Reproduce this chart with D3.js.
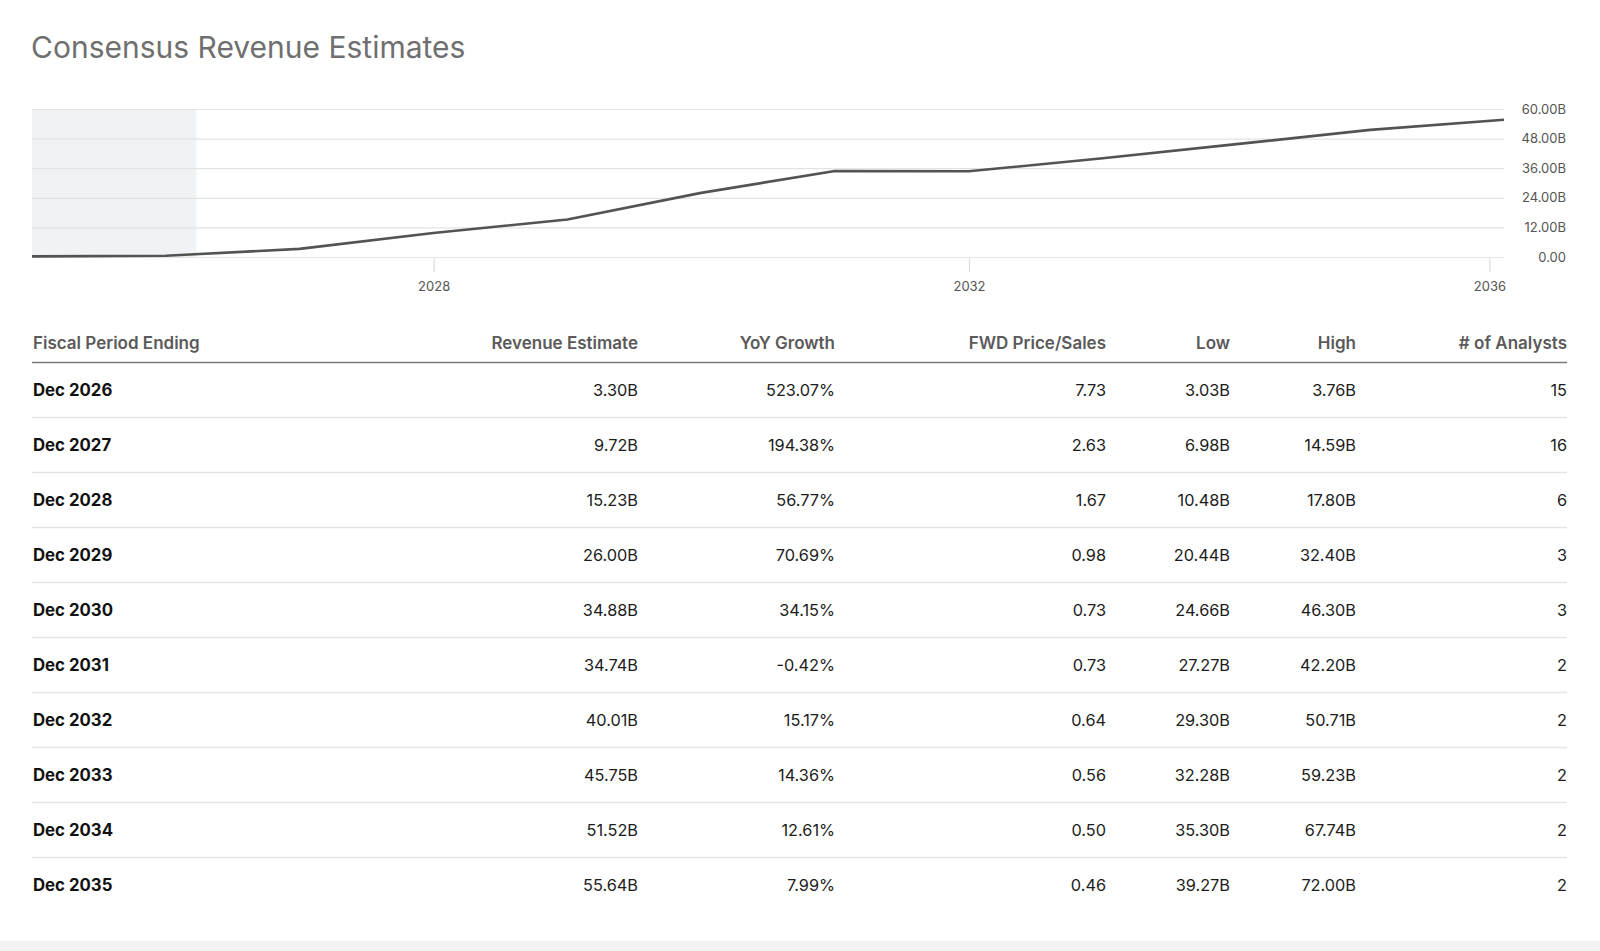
<!DOCTYPE html>
<html>
<head>
<meta charset="utf-8">
<script src="https://cdn.jsdelivr.net/npm/d3@7/dist/d3.min.js"></script>
<style>
  html, body { margin: 0; padding: 0; background: #fff; }
  svg { display: block; font-family: Inter, "Noto Sans", sans-serif; }
</style>
</head>
<body>
<svg id="root" width="1600" height="951"></svg>
<script>
// ---- data ----
const title = "Consensus Revenue Estimates";
const chartPeriods = ["2024-12-31","2025-12-31","2026-12-31","2027-12-31","2028-12-31","2029-12-31","2030-12-31","2031-12-31","2032-12-31","2033-12-31","2034-12-31","2035-12-31"];
const chartRevenue = [0.25, 0.53, 3.30, 9.72, 15.23, 26.00, 34.88, 34.74, 40.01, 45.75, 51.52, 55.64];
const todayDate = "2026-03-25";
const yTicks = [0, 12, 24, 36, 48, 60];
const xTickYears = [2028, 2032, 2036];

const columns = ["Fiscal Period Ending", "Revenue Estimate", "YoY Growth", "FWD Price/Sales", "Low", "High", "# of Analysts"];
const periods = ["Dec 2026","Dec 2027","Dec 2028","Dec 2029","Dec 2030","Dec 2031","Dec 2032","Dec 2033","Dec 2034","Dec 2035"];
const revenue = [3.30, 9.72, 15.23, 26.00, 34.88, 34.74, 40.01, 45.75, 51.52, 55.64];
const yoy = [523.07, 194.38, 56.77, 70.69, 34.15, -0.42, 15.17, 14.36, 12.61, 7.99];
const fwdPS = [7.73, 2.63, 1.67, 0.98, 0.73, 0.73, 0.64, 0.56, 0.50, 0.46];
const low = [3.03, 6.98, 10.48, 20.44, 24.66, 27.27, 29.30, 32.28, 35.30, 39.27];
const high = [3.76, 14.59, 17.80, 32.40, 46.30, 42.20, 50.71, 59.23, 67.74, 72.00];
const analysts = [15, 16, 6, 3, 3, 2, 2, 2, 2, 2];

// ---- layout ----
const svg = d3.select("#root");
const parse = d3.timeParse("%Y-%m-%d");
const plot = { left: 32, right: 1504, top: 109, bottom: 257 };

svg.append("rect").attr("x", 0).attr("y", 941).attr("width", 1600).attr("height", 10).attr("fill", "#f3f3f3");

svg.append("text").attr("x", 31).attr("y", 58)
  .attr("font-size", 30).attr("fill", "#6f6f6f").text(title);

const x = d3.scaleTime()
  .domain([parse(chartPeriods[0]), parse(chartPeriods[chartPeriods.length - 1])])
  .range([plot.left, plot.right]);
const y = d3.scaleLinear().domain([0, 60]).range([plot.bottom, plot.top]);

// shaded history region
svg.append("rect")
  .attr("x", x(parse(chartPeriods[0])))
  .attr("y", y(60))
  .attr("width", x(parse(todayDate)) - x(parse(chartPeriods[0])))
  .attr("height", y(0) - y(60))
  .attr("fill", "#f0f3f6");

// y gridlines + labels
const yAxis = svg.append("g").attr("transform", `translate(${plot.right},0)`)
  .call(d3.axisRight(y).tickValues(yTicks)
    .tickSize(-(plot.right - plot.left))
    .tickFormat(d => d === 0 ? "0.00" : d3.format(".2f")(d) + "B"));
yAxis.select(".domain").remove();
yAxis.selectAll(".tick line").attr("stroke", "#e3e3e3").attr("stroke-width", 1.2);
yAxis.selectAll(".tick text")
  .attr("text-anchor", "end").attr("x", 62)
  .attr("font-size", 13).attr("font-family", "Inter, sans-serif").attr("fill", "#555");

// x axis (edge tick is pulled inside the plot, label and tick together)
const overflow = d => x(d) + 20 > plot.right;
const xAxis = svg.append("g").attr("transform", `translate(0,${plot.bottom + 1})`)
  .call(d3.axisBottom(x).tickValues(xTickYears.map(yv => new Date(yv, 0, 1)))
    .tickSize(14).tickPadding(10).tickFormat(d3.timeFormat("%Y")));
xAxis.select(".domain").remove();
xAxis.selectAll(".tick line").attr("stroke", "#dcdcdc").attr("stroke-width", 1.2)
  .attr("x1", d => overflow(d) ? -15 : 0).attr("x2", d => overflow(d) ? -15 : 0);
xAxis.selectAll(".tick text").attr("font-size", 13).attr("font-family", "Inter, sans-serif").attr("fill", "#555")
  .attr("dx", d => overflow(d) ? -15 : 0);

// line
const line = d3.line().x((d, i) => x(parse(chartPeriods[i]))).y(d => y(d));
svg.append("path").datum(chartRevenue)
  .attr("d", line).attr("fill", "none")
  .attr("stroke", "#535353").attr("stroke-width", 2.6).attr("stroke-linejoin", "round");

// ---- table ----
const colX = [33, 638, 835, 1106, 1230, 1356, 1567];
const colAnchor = ["start", "end", "end", "end", "end", "end", "end"];
const headerY = 343;
const rowY0 = 390, rowH = 55;
const tbl = svg.append("g");

tbl.selectAll("text.hdr").data(columns).join("text")
  .attr("class", "hdr")
  .attr("x", (d, i) => colX[i]).attr("y", headerY)
  .attr("dy", "0.36em")
  .attr("text-anchor", (d, i) => colAnchor[i])
  .attr("font-size", 17).attr("font-weight", 600).attr("fill", "#5a5a5a")
  .text(d => d);

tbl.append("line").attr("x1", 32).attr("x2", 1567).attr("y1", 362.5).attr("y2", 362.5)
  .attr("stroke", "#7a7a7a").attr("stroke-width", 1.5);

const f2 = v => d3.format(".2f")(v).replace("\u2212", "-");
const fmtB = v => f2(v) + "B";
const rows = periods.map((p, i) => [p, fmtB(revenue[i]), f2(yoy[i]) + "%", f2(fwdPS[i]), fmtB(low[i]), fmtB(high[i]), String(analysts[i])]);

const rowG = tbl.selectAll("g.row").data(rows).join("g")
  .attr("class", "row")
  .attr("transform", (d, i) => `translate(0,${rowY0 + i * rowH})`);

rowG.filter((d, i) => i < rows.length - 1).append("line")
  .attr("x1", 32).attr("x2", 1567).attr("y1", 27.5).attr("y2", 27.5)
  .attr("stroke", "#e4e4e4").attr("stroke-width", 1.6);

rowG.selectAll("text").data(d => d).join("text")
  .attr("x", (d, i) => colX[i]).attr("y", 0).attr("dy", "0.36em")
  .attr("text-anchor", (d, i) => colAnchor[i])
  .attr("font-size", (d, i) => i === 0 ? 16.8 : 16.3)
  .attr("font-weight", (d, i) => i === 0 ? 700 : 400)
  .attr("fill", (d, i) => i === 0 ? "#111" : "#1c1c1c")
  .text(d => d);
</script>
</body>
</html>
